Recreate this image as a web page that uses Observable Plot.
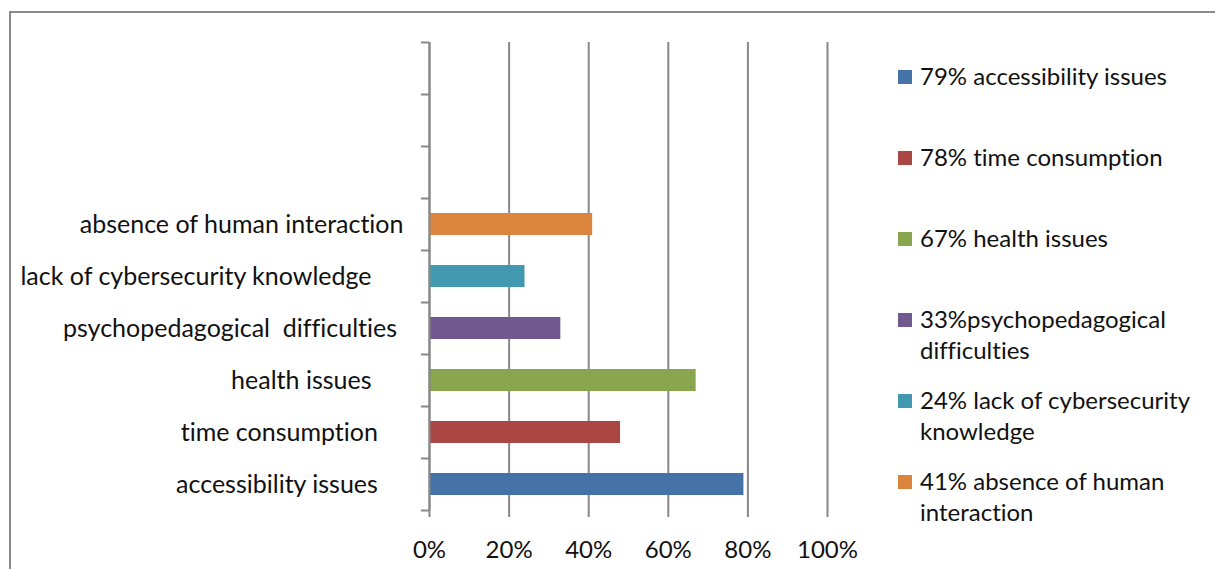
<!DOCTYPE html>
<html>
<head>
<meta charset="utf-8">
<script src="https://cdn.jsdelivr.net/npm/d3@7"></script>
<script src="https://cdn.jsdelivr.net/npm/@observablehq/plot@0.6"></script>
<style>
  html, body { margin: 0; padding: 0; background: #fff; }
  #page { position: relative; width: 1215px; height: 569px; overflow: hidden; font-family: Lato, sans-serif; font-variant-ligatures: none; }
  #frame { position: absolute; left: 9px; top: 11px; width: 1300px; height: 700px; border-top: 2px solid #8a8a8a; border-left: 2px solid #8a8a8a; }
  #chart { position: absolute; left: 0; top: 0; }
  #chart svg text { white-space: pre; font-variant-ligatures: none; }
  #legend { position: absolute; left: 898px; top: 60px; width: 310px; }
  .item { display: flex; align-items: flex-start; height: 81px; }
  .item:last-child { height: 79px; }
  .swatch { width: 14px; height: 14px; flex: none; margin-top: 10px; margin-right: 8px; }
  .label { font-size: 24px; line-height: 31px; color: #111; width: 285px; }
</style>
</head>
<body>
<div id="page">
  <div id="frame"></div>
  <div id="chart"></div>
  <div id="legend"></div>
</div>
<script>
// Data
const categories = ["accessibility issues", "time consumption", "health issues", "psychopedagogical  difficulties", "lack of cybersecurity knowledge", "absence of human interaction"];
const categoryLabels = ["accessibility issues    ", "time consumption    ", "health issues     ", "psychopedagogical  difficulties ", "lack of cybersecurity knowledge     ", "absence of human interaction"];
const values = [0.79, 0.48, 0.67, 0.33, 0.24, 0.41];
const colors = ["#4572A7", "#AA4643", "#89A54E", "#71588F", "#4198AF", "#DB843D"];
const emptySlots = ["empty1", "empty2", "empty3"];
const legendLabels = ["79% accessibility issues", "78% time consumption", "67% health issues", "33%psychopedagogical difficulties", "24% lack of cybersecurity knowledge", "41% absence of human interaction"];
const xTicks = [0, 0.2, 0.4, 0.6, 0.8, 1];

const rows = categories.map((c, i) => ({category: c, value: values[i], color: colors[i]}));
const yDomain = [...emptySlots, ...categories.slice().reverse()];
const labelOf = new Map(categories.map((c, i) => [c, categoryLabels[i]]));
const gray = "#888888";

const chart = Plot.plot({
  width: 880,
  height: 569,
  marginLeft: 429,
  marginRight: 53,
  marginTop: 42,
  marginBottom: 59,
  style: {fontFamily: "Lato, sans-serif", fontSize: "25px", color: "#111", background: "transparent"},
  x: {domain: [0, 1], label: null},
  y: {domain: yDomain, padding: 0, label: null},
  marks: [
    Plot.gridX(xTicks, {stroke: gray, strokeOpacity: 1, strokeWidth: 2}),
    Plot.barX(rows, {x: "value", y: "category", fill: "color", insetTop: 15, insetBottom: 15, insetLeft: 1}),
    Plot.ruleX([0], {stroke: gray, strokeWidth: 2}),
    Plot.axisX(xTicks, {tickFormat: d3.format(".0%"), tickSize: 7, tickPadding: 23, stroke: gray, strokeWidth: 2, fill: "#111", fontSize: 24, label: null}),
    Plot.axisY(yDomain, {tickSize: 0, tickPadding: 26, tickFormat: d => labelOf.get(d) ?? "", fill: "#111", fontSize: 25, label: null}),
    Plot.axisY(yDomain, {tickSize: 8, tickFormat: null, stroke: gray, strokeWidth: 2, dy: 26, text: null, label: null}),
    Plot.axisY([yDomain[0]], {tickSize: 8, tickFormat: null, stroke: gray, strokeWidth: 2, dy: -26, text: null, label: null})
  ]
});
document.getElementById("chart").appendChild(chart);

const legend = document.getElementById("legend");
legendLabels.forEach((t, i) => {
  const item = document.createElement("div");
  item.className = "item";
  const sw = document.createElement("div");
  sw.className = "swatch";
  sw.style.background = colors[i];
  const lb = document.createElement("div");
  lb.className = "label";
  lb.textContent = t;
  item.appendChild(sw);
  item.appendChild(lb);
  legend.appendChild(item);
});
</script>
</body>
</html>
